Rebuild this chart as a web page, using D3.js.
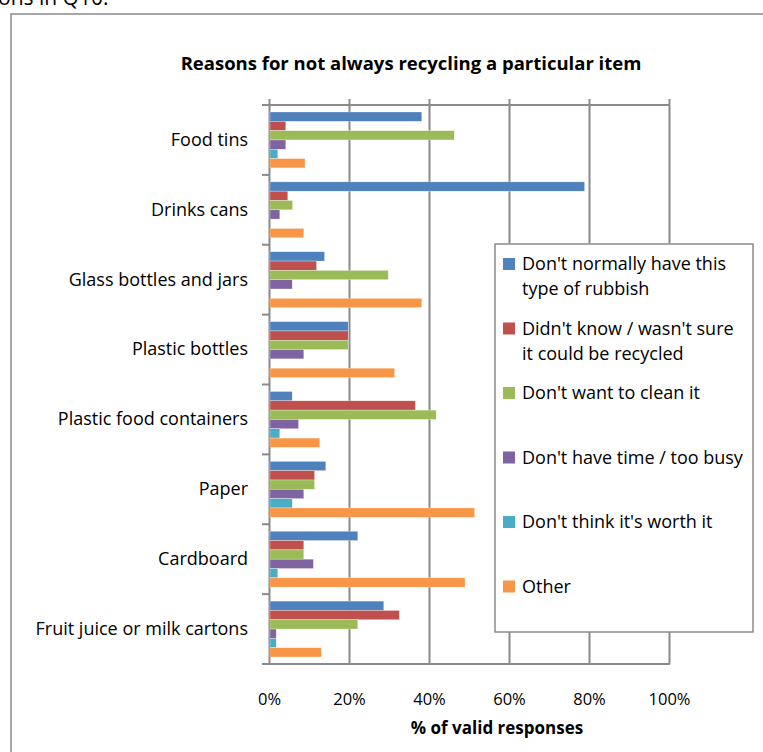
<!DOCTYPE html>
<html>
<head>
<meta charset="utf-8">
<script src="https://cdn.jsdelivr.net/npm/d3@7"></script>
<style>
  body { margin: 0; background: #fff; }
  svg { display: block; font-family: "Open Sans", Lato, sans-serif; }
  .title { font-weight: bold; font-size: 18.5px; }
  .cat { font-size: 18px; fill: #000; }
  .tick text { font-size: 16.5px; fill: #000; font-family: "Open Sans", Lato, sans-serif; }
  .axis-title { font-weight: bold; font-size: 17px; }
  .legend text { font-size: 18px; }
</style>
</head>
<body>
<svg width="763" height="752"></svg>
<script>
const categories = [
  'Food tins', 'Drinks cans', 'Glass bottles and jars', 'Plastic bottles',
  'Plastic food containers', 'Paper', 'Cardboard', 'Fruit juice or milk cartons'
];
const series = [
  "Don't normally have this type of rubbish",
  "Didn't know / wasn't sure it could be recycled",
  "Don't want to clean it",
  "Don't have time / too busy",
  "Don't think it's worth it",
  'Other'
];
const legendLines = [
  ["Don't normally have this", 'type of rubbish'],
  ["Didn't know / wasn't sure", 'it could be recycled'],
  ["Don't want to clean it"],
  ["Don't have time / too busy"],
  ["Don't think it's worth it"],
  ['Other']
];
// one array per series, in category order (%)
const notNormally = [38.2, 78.9, 13.9, 19.8, 5.8, 14.2, 22.2, 28.7];
const didntKnow   = [4.2, 4.7, 11.9, 19.8, 36.6, 11.4, 8.7, 32.6];
const noClean     = [46.3, 5.9, 29.8, 19.8, 41.8, 11.4, 8.7, 22.2];
const noTime      = [4.2, 2.7, 5.8, 8.7, 7.4, 8.7, 11.1, 1.8];
const notWorth    = [2.2, 0, 0, 0, 2.7, 5.8, 2.2, 1.8];
const other       = [9.0, 8.7, 38.2, 31.4, 12.7, 51.4, 49.0, 13.1];
const xTicks = [0, 20, 40, 60, 80, 100];

const values = [notNormally, didntKnow, noClean, noTime, notWorth, other];
const colors = ['#4F81BD', '#C0504D', '#9BBB59', '#8064A2', '#4BACC6', '#F79646'];

const svg = d3.select('svg');

// piece of caption above the chart, cut off by the page edge
svg.append('text')
  .attr('x', -2).attr('y', 5)
  .attr('font-size', 21)
  .text('ons in Q10.');

// chart frame
svg.append('rect')
  .attr('x', 11).attr('y', 14)
  .attr('width', 800).attr('height', 800)
  .attr('fill', '#fff')
  .attr('stroke', '#8a8a8a')
  .attr('stroke-width', 1.5);

svg.append('text')
  .attr('class', 'title')
  .attr('x', 411).attr('y', 70)
  .attr('text-anchor', 'middle')
  .text('Reasons for not always recycling a particular item');

const plotLeft = 269, plotRight = 669, plotTop = 105, plotBottom = 664;

const x = d3.scaleLinear().domain([0, 100]).range([plotLeft, plotRight]);
const y = d3.scaleBand().domain(categories).range([plotTop, plotBottom]);
const ySub = d3.scaleBand()
  .domain(d3.range(series.length))
  .range([y.bandwidth() * 0.1, y.bandwidth() * 0.9]);

const gridColor = '#8a8a8a';

// vertical gridlines, poking above the top line like tick marks
svg.append('g')
  .attr('transform', `translate(0, ${plotTop - 6})`)
  .call(d3.axisTop(x).tickValues(xTicks).tickSize(-(plotBottom - plotTop + 6)).tickFormat(''))
  .call(g => g.select('.domain').remove())
  .call(g => g.selectAll('line').attr('stroke', gridColor).attr('stroke-width', 2));

// top and bottom lines
[plotTop, plotBottom].forEach(yy => {
  svg.append('line')
    .attr('x1', plotLeft - 7).attr('x2', plotRight + 1)
    .attr('y1', yy).attr('y2', yy)
    .attr('stroke', gridColor).attr('stroke-width', 2);
});

// category tick marks at band boundaries
svg.append('g')
  .selectAll('line')
  .data(categories.slice(1))
  .join('line')
  .attr('x1', plotLeft - 7).attr('x2', plotLeft)
  .attr('y1', d => y(d)).attr('y2', d => y(d))
  .attr('stroke', gridColor).attr('stroke-width', 2);

// category labels
svg.append('g')
  .selectAll('text')
  .data(categories)
  .join('text')
  .attr('class', 'cat')
  .attr('x', 248)
  .attr('y', d => y(d) + y.bandwidth() / 2 + 1)
  .attr('text-anchor', 'end')
  .attr('dominant-baseline', 'middle')
  .text(d => d);

// bars
const groups = svg.append('g')
  .selectAll('g')
  .data(categories)
  .join('g')
  .attr('transform', d => `translate(0, ${y(d)})`);

groups.selectAll('rect')
  .data((c, ci) => values.map((arr, si) => ({ si, v: arr[ci] })))
  .join('rect')
  .attr('x', x(0) + 1)
  .attr('y', d => ySub(d.si))
  .attr('height', ySub.bandwidth())
  .attr('width', d => Math.max(0, x(d.v) - x(0) - 1))
  .attr('fill', d => colors[d.si])
  .attr('stroke', '#fff')
  .attr('stroke-width', 0.5)
  .attr('stroke-opacity', 0.6);

// x tick labels
svg.append('g')
  .attr('transform', `translate(0, ${plotBottom})`)
  .call(d3.axisBottom(x).tickValues(xTicks).tickSize(0).tickPadding(29).tickFormat(d => d + '%'))
  .call(g => g.select('.domain').remove());

svg.append('text')
  .attr('class', 'axis-title')
  .attr('x', 497).attr('y', 734)
  .attr('text-anchor', 'middle')
  .text('% of valid  responses');

// legend
const legend = svg.append('g').attr('class', 'legend');
legend.append('rect')
  .attr('x', 495).attr('y', 244)
  .attr('width', 258).attr('height', 388)
  .attr('fill', '#fff')
  .attr('stroke', gridColor).attr('stroke-width', 1.5);

const item = legend.selectAll('g.item')
  .data(series)
  .join('g')
  .attr('class', 'item')
  .attr('transform', (d, i) => `translate(503, ${258 + i * 64.5})`);

item.append('rect')
  .attr('width', 12).attr('height', 12)
  .attr('fill', (d, i) => colors[i]);

item.append('text')
  .attr('x', 19).attr('y', 12)
  .selectAll('tspan')
  .data((d, i) => legendLines[i])
  .join('tspan')
  .attr('x', 19)
  .attr('dy', (d, j) => j === 0 ? 0 : 25)
  .text(d => d);
</script>
</body>
</html>
